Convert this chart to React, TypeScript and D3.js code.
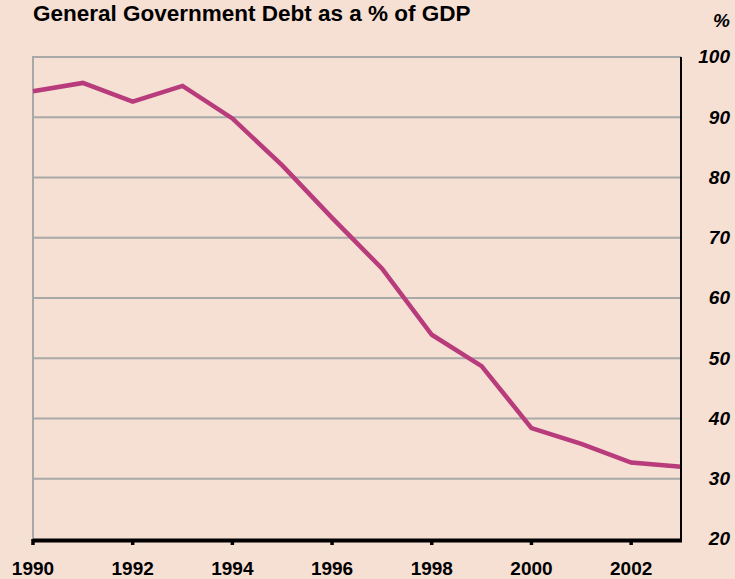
import React from "react";
import * as d3 from "d3";

const years = [1990, 1991, 1992, 1993, 1994, 1995, 1996, 1997, 1998, 1999, 2000, 2001, 2002, 2003];
const debt = [94.3, 95.7, 92.6, 95.2, 89.8, 82.0, 73.3, 64.9, 53.9, 48.7, 38.4, 35.8, 32.7, 32.0];
const yTicks = [20, 30, 40, 50, 60, 70, 80, 90, 100];
const xTicks = [1990, 1992, 1994, 1996, 1998, 2000, 2002];
const title = "General Government Debt as a % of GDP";
const unit = "%";

const W = 735;
const H = 579;
const left = 33;
const right = 681;
const top = 57;
const bottom = 539;

export default function App() {
  const x = d3.scaleLinear().domain([1990, 2003]).range([left, right]);
  const y = d3.scaleLinear().domain([20, 100]).range([bottom, top]);
  const line = d3
    .line<number>()
    .x((_, i) => x(years[i]))
    .y((d) => y(d));
  const font = "'Liberation Sans', Arial, Helvetica, sans-serif";

  return (
    <svg
      width={W}
      height={H}
      style={{ position: "absolute", left: 0, top: 0, display: "block" }}
      fontFamily={font}
    >
      <rect x={0} y={0} width={W} height={H} fill="#F6DFD3" />
      <text x={left} y={20.5} fontSize={22.5} fontWeight="bold" fill="#000">
        {title}
      </text>
      <text x={730} y={27} fontSize={19} fontWeight="bold" fontStyle="italic" textAnchor="end" fill="#000">
        {unit}
      </text>
      {yTicks
        .filter((t) => t > 20)
        .map((t) => (
          <line key={"g" + t} x1={left} x2={right} y1={y(t)} y2={y(t)} stroke="#A9A9A9" strokeWidth={2} />
        ))}
      <line x1={left} x2={left} y1={top - 1} y2={bottom} stroke="#A9A9A9" strokeWidth={2} />
      {yTicks.map((t) => (
        <text
          key={"yl" + t}
          x={730}
          y={y(t)}
          dy="0.33em"
          fontSize={19}
          fontWeight="bold"
          fontStyle="italic"
          textAnchor="end"
          fill="#000"
        >
          {t}
        </text>
      ))}
      <path d={line(debt) || ""} fill="none" stroke="#B83B7B" strokeWidth={4.5} strokeLinejoin="miter" />
      <line x1={right} x2={right} y1={top} y2={bottom + 3} stroke="#000" strokeWidth={2} />
      <line x1={left} x2={right + 1} y1={bottom + 1.5} y2={bottom + 1.5} stroke="#000" strokeWidth={4} />
      {xTicks.map((t) => (
        <g key={"xt" + t}>
          <line x1={x(t)} x2={x(t)} y1={bottom} y2={bottom + 6} stroke="#000" strokeWidth={3.5} />
          <text x={x(t)} y={575} fontSize={19} fontWeight="bold" textAnchor="middle" fill="#000">
            {t}
          </text>
        </g>
      ))}
    </svg>
  );
}
